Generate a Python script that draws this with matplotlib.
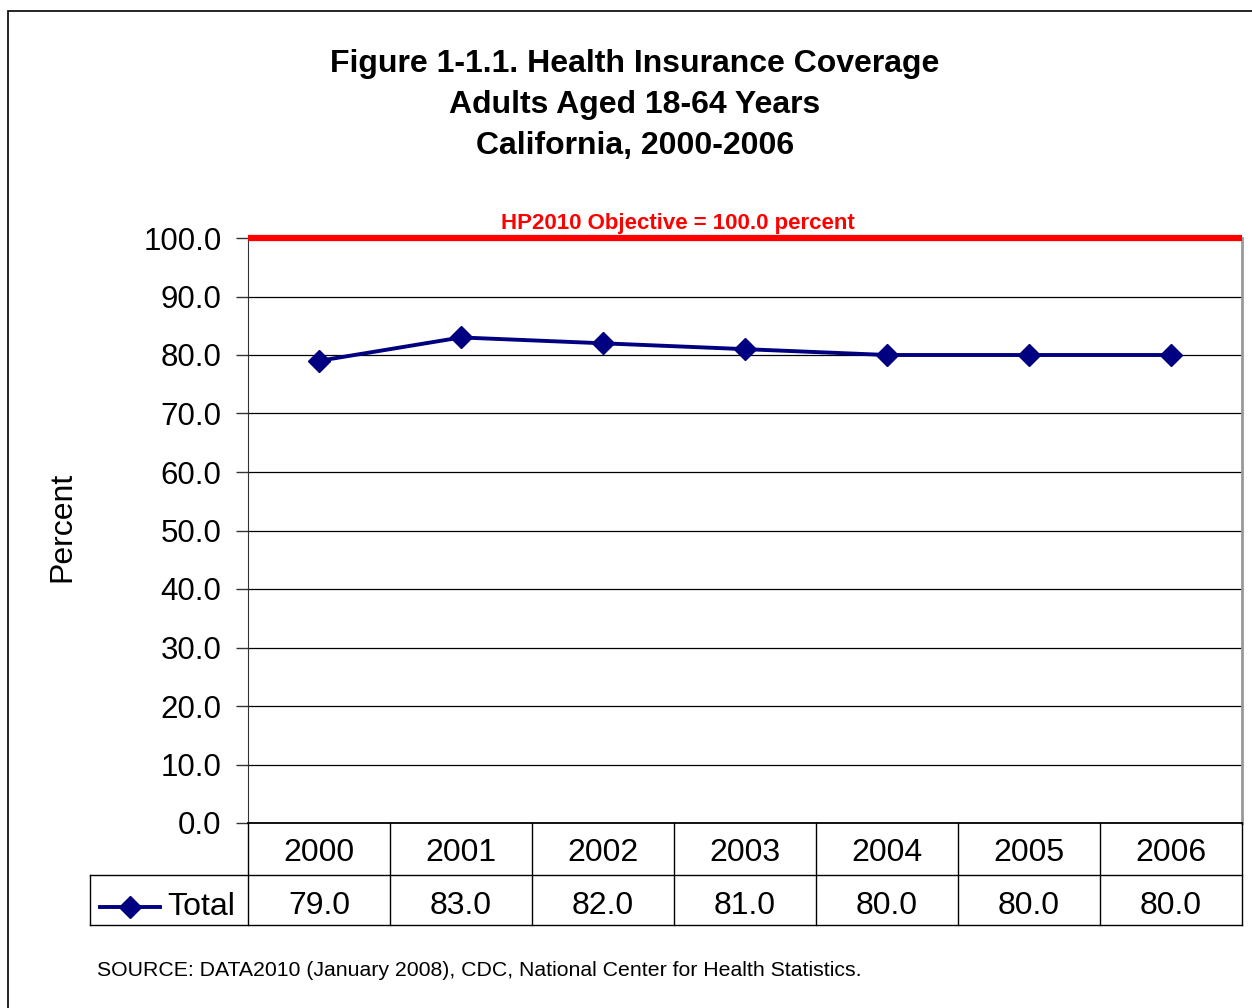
#!/usr/bin/env python3
# -*- coding: utf-8 -*-

import matplotlib
matplotlib.use('Agg')
import matplotlib.pyplot as plt
import matplotlib.transforms as mtransforms
from matplotlib.patches import Rectangle
from matplotlib.lines import Line2D

years = ['2000', '2001', '2002', '2003', '2004', '2005', '2006']
total = [79.0, 83.0, 82.0, 81.0, 80.0, 80.0, 80.0]
objective = 100.0
y_ticks = [0, 10, 20, 30, 40, 50, 60, 70, 80, 90, 100]

title = ('Figure 1-1.1. Health Insurance Coverage\n'
         'Adults Aged 18-64 Years\n'
         'California, 2000-2006')
source = 'SOURCE: DATA2010 (January 2008), CDC, National Center for Health Statistics.'

plt.rcParams['font.family'] = ['Liberation Sans', 'DejaVu Sans']

W, H = 1252, 1008
fig = plt.figure(figsize=(W / 100, H / 100), dpi=100)


def fx(px):
    return px / W


def fy(py):
    return 1 - py / H


# plot area in pixels: x 248..1242, y 238..823
ax = fig.add_axes([fx(248), fy(823), fx(1242) - fx(248), fy(238) - fy(823)])
navy = '#000080'
big = 23

ax.plot(range(len(years)), total, color=navy, lw=2.8, marker='D',
        markersize=11, markerfacecolor=navy, markeredgecolor=navy, zorder=5)
ax.axhline(objective, color='#ff0000', lw=4.5, zorder=6, clip_on=False,
           solid_capstyle='butt')
fig.text(fx(678), fy(224), 'HP2010 Objective = 100.0 percent',
         color='#ff0000', fontsize=16, fontweight='bold', ha='center', va='center')

ax.set_xlim(-0.5, len(years) - 0.5)
ax.set_ylim(0, 100)
ax.set_yticks(y_ticks)
ax.set_yticklabels([f'{v:.1f}' for v in y_ticks], fontsize=22.5)
ax.set_xticks([])
ax.tick_params(axis='y', length=9, width=1, pad=10, color='#333333')
ax.grid(True, axis='y', color='#000000', lw=0.9)
ax.set_axisbelow(True)
ax.spines['top'].set_visible(False)
ax.spines['right'].set_color('#999999')
ax.spines['right'].set_linewidth(2)
ax.spines['left'].set_color('#333333')
ax.spines['bottom'].set_color('#000000')
ax.spines['bottom'].set_linewidth(1.3)

fig.text(fx(62), fy(527), 'Percent', rotation=90, fontsize=big, ha='center', va='center')
fig.text(fx(635), fy(105), title, fontsize=23, fontweight='bold', ha='center',
         va='center', linespacing=1.46)

# data table below the plot
trans = mtransforms.blended_transform_factory(ax.transData, fig.transFigure)
row1_top, row1_bot, row2_bot = fy(823), fy(875), fy(925)
for i in range(len(years) + 1):
    fig.add_artist(Line2D([i - 0.5, i - 0.5], [row1_top, row2_bot], transform=trans,
                          color='#000000', lw=1))
for y in (row1_bot, row2_bot):
    fig.add_artist(Line2D([fx(90), fx(1242)], [y, y], transform=fig.transFigure,
                          color='#000000', lw=1))
fig.add_artist(Line2D([fx(90), fx(90)], [row1_bot, row2_bot], transform=fig.transFigure,
                      color='#000000', lw=1))
for i, (yr, v) in enumerate(zip(years, total)):
    fig.text(i, fy(853), yr, transform=trans, fontsize=big, ha='center', va='center')
    fig.text(i, fy(906), f'{v:.1f}', transform=trans, fontsize=big,
             ha='center', va='center')

# legend key in the table
fig.add_artist(Line2D([fx(100), fx(130), fx(160)], [fy(907)] * 3, transform=fig.transFigure,
                      color=navy, lw=2.8, marker='D', markersize=11, markevery=[1],
                      markerfacecolor=navy))
fig.text(fx(167), fy(907), 'Total', fontsize=big, ha='left', va='center')

fig.text(fx(97), fy(971), source, fontsize=15.3, ha='left', va='center')

# outer chart frame
fig.add_artist(Rectangle((fx(8), -0.1), 1.2, fy(11) + 0.1, transform=fig.transFigure,
                         fill=False, edgecolor='#000000', lw=1.2))

fig.savefig('out.png', dpi=100)
